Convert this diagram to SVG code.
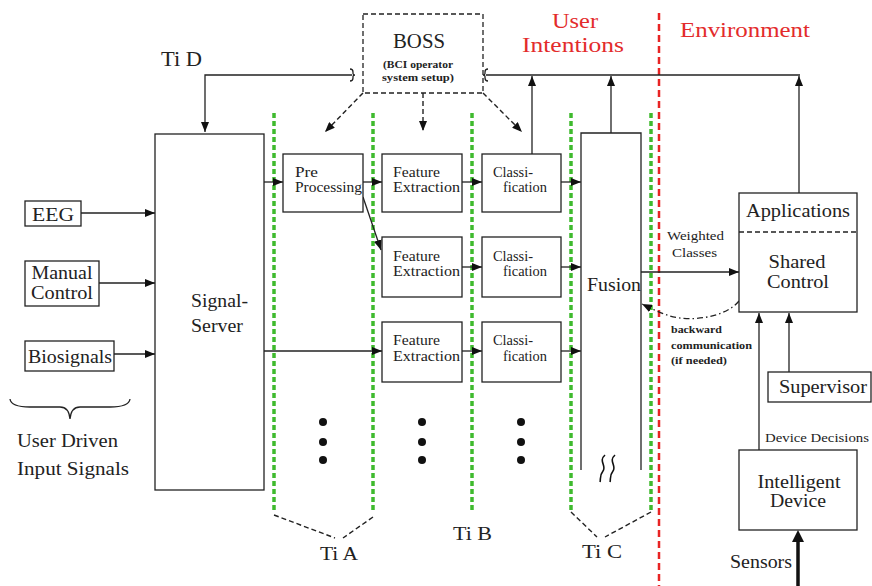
<svg xmlns="http://www.w3.org/2000/svg" width="872" height="586" viewBox="0 0 872 586" font-family="Liberation Serif, DejaVu Serif, Times New Roman, serif">
<style>
.t{fill:#222}
.r{fill:#e32b2b}
.box{fill:#fff;stroke:#222;stroke-width:1.3}
.ln{fill:none;stroke:#222;stroke-width:1.3}
.dash{fill:none;stroke:#222;stroke-width:1.4;stroke-dasharray:5 3}
.grn{fill:none;stroke:#3fba2e;stroke-width:3.5;stroke-dasharray:5 3}
.rdash{fill:none;stroke:#e82424;stroke-width:2.5;stroke-dasharray:7 4}
.dot{fill:#111}
</style>
<defs>
<marker id="ah" viewBox="0 0 10 8" refX="10" refY="4" markerWidth="10" markerHeight="8" markerUnits="userSpaceOnUse" orient="auto">
<path d="M0,0 L10,4 L0,8 Z" fill="#111"/>
</marker>
</defs>
<rect width="872" height="586" fill="#fff"/>

<g id="separators">
<line class="grn" x1="274" y1="113" x2="274" y2="512"/>
<line class="grn" x1="373" y1="113" x2="373" y2="512"/>
<line class="grn" x1="472" y1="113" x2="472" y2="512"/>
<line class="grn" x1="571" y1="113" x2="571" y2="512"/>
<line class="grn" x1="651" y1="113" x2="651" y2="512"/>
<line class="rdash" x1="659" y1="13" x2="659" y2="586"/>
</g>

<g id="connectors">
<path class="ln" d="M352,75 H205 V132" marker-end="url(#ah)"/>
<path class="ln" d="M350,69 q3,0 3,3 v1.5 q0,1.5 2,1.5 q-2,0 -2,1.5 v1.5 q0,3 -3,3"/>
<path class="ln" d="M486,75 H800"/>
<path class="ln" d="M488,69 q-3,0 -3,3 v1.5 q0,1.5 -2,1.5 q2,0 2,1.5 v1.5 q0,3 3,3"/>
<path class="ln" d="M532,154 V76" marker-end="url(#ah)"/>
<path class="ln" d="M611,133 V76" marker-end="url(#ah)"/>
<path class="ln" d="M799,193 V76" marker-end="url(#ah)"/>
<path class="dash" d="M363,93 L325,132" marker-end="url(#ah)"/>
<path class="dash" d="M423,93 V131" marker-end="url(#ah)"/>
<path class="dash" d="M483,93 L522,132" marker-end="url(#ah)"/>
<path class="ln" d="M81,213 H155" marker-end="url(#ah)"/>
<path class="ln" d="M99,283 H155" marker-end="url(#ah)"/>
<path class="ln" d="M114,354 H155" marker-end="url(#ah)"/>
<path class="ln" d="M264,182 H283" marker-end="url(#ah)"/>
<path class="ln" d="M363,182 H382" marker-end="url(#ah)"/>
<path class="ln" d="M462,182 H482" marker-end="url(#ah)"/>
<path class="ln" d="M561,182 H581" marker-end="url(#ah)"/>
<path class="ln" d="M363,197 L381,250" marker-end="url(#ah)"/>
<path class="ln" d="M462,267 H482" marker-end="url(#ah)"/>
<path class="ln" d="M561,267 H581" marker-end="url(#ah)"/>
<path class="ln" d="M264,351 H382" marker-end="url(#ah)"/>
<path class="ln" d="M462,351 H482" marker-end="url(#ah)"/>
<path class="ln" d="M561,351 H581" marker-end="url(#ah)"/>
<path class="ln" d="M641,272 H739" marker-end="url(#ah)"/>
<path fill="none" stroke="#222" stroke-width="1.3" stroke-dasharray="6 3 1.5 3" d="M739,301 C725,318 690,322 670,316 C660,313 650,308 642,304" marker-end="url(#ah)"/>
<path class="ln" d="M789,372 V313" marker-end="url(#ah)"/>
<path class="ln" d="M759,450 V313" marker-end="url(#ah)"/>
<path fill="none" stroke="#111" stroke-width="3.5" d="M798,586 V540"/>
<path d="M792,542 L798,530 L804,542 Z" fill="#111"/>
<path class="dash" d="M274,515 L335,538 M373,517 L343,538"/>
<path class="dash" d="M571,512 L597,537 M651,512 L605,537"/>
</g>

<g id="boss">
<rect class="box" x="363" y="14" width="120" height="79" style="stroke-dasharray:5 3"/>
<text class="t" x="419" y="48" font-size="20" text-anchor="middle" textLength="52" lengthAdjust="spacingAndGlyphs">BOSS</text>
<text class="t" x="418" y="68" font-size="10" font-weight="bold" text-anchor="middle" textLength="70" lengthAdjust="spacingAndGlyphs">(BCI operator</text>
<text class="t" x="418" y="81" font-size="10" font-weight="bold" text-anchor="middle" textLength="72" lengthAdjust="spacingAndGlyphs">system setup)</text>
</g>
<g id="tid"><text class="t" x="161" y="66" font-size="21" textLength="41" lengthAdjust="spacingAndGlyphs">Ti D</text></g>
<g id="user-intentions">
<text class="r" x="575" y="28" font-size="21" text-anchor="middle" textLength="46" lengthAdjust="spacingAndGlyphs">User</text>
<text class="r" x="573" y="52" font-size="21" text-anchor="middle" textLength="102" lengthAdjust="spacingAndGlyphs">Intentions</text>
</g>
<g id="environment"><text class="r" x="680" y="37" font-size="21" textLength="130" lengthAdjust="spacingAndGlyphs">Environment</text></g>

<g id="eeg">
<rect class="box" x="25" y="201" width="56" height="25"/>
<text class="t" x="53" y="221" font-size="19" text-anchor="middle" textLength="42" lengthAdjust="spacingAndGlyphs">EEG</text>
</g>
<g id="manual-control">
<rect class="box" x="25" y="261" width="74" height="45"/>
<text class="t" x="62" y="279" font-size="19" text-anchor="middle" textLength="61" lengthAdjust="spacingAndGlyphs">Manual</text>
<text class="t" x="62" y="299" font-size="19" text-anchor="middle" textLength="62" lengthAdjust="spacingAndGlyphs">Control</text>
</g>
<g id="biosignals">
<rect class="box" x="25" y="341" width="89" height="30"/>
<text class="t" x="70" y="363" font-size="19" text-anchor="middle" textLength="84" lengthAdjust="spacingAndGlyphs">Biosignals</text>
</g>
<g id="user-driven">
<path class="ln" d="M10,399 Q11,407 30,407 H60 Q69,407 70,419 Q71,407 80,407 H110 Q129,407 130,399"/>
<text class="t" x="17" y="447" font-size="19" textLength="101" lengthAdjust="spacingAndGlyphs">User Driven</text>
<text class="t" x="17" y="475" font-size="19" textLength="112" lengthAdjust="spacingAndGlyphs">Input Signals</text>
</g>
<g id="signal-server">
<rect class="box" x="155" y="134" width="109" height="356"/>
<text class="t" x="191" y="307" font-size="19" textLength="57" lengthAdjust="spacingAndGlyphs">Signal-</text>
<text class="t" x="191" y="332" font-size="19" textLength="52" lengthAdjust="spacingAndGlyphs">Server</text>
</g>

<g id="preprocessing">
<rect class="box" x="283" y="154" width="80" height="58"/>
<text class="t" x="295" y="177" font-size="14" textLength="23" lengthAdjust="spacingAndGlyphs">Pre</text>
<text class="t" x="295" y="192" font-size="14" textLength="67" lengthAdjust="spacingAndGlyphs">Processing</text>
</g>
<g id="fe1">
<rect class="box" x="382" y="154" width="80" height="58"/>
<text class="t" x="393" y="177" font-size="14" textLength="47" lengthAdjust="spacingAndGlyphs">Feature</text>
<text class="t" x="393" y="192" font-size="14" textLength="67" lengthAdjust="spacingAndGlyphs">Extraction</text>
</g>
<g id="cl1">
<rect class="box" x="482" y="154" width="79" height="58"/>
<text class="t" x="493" y="177" font-size="14" textLength="40" lengthAdjust="spacingAndGlyphs">Classi-</text>
<text class="t" x="503" y="192" font-size="14" textLength="44" lengthAdjust="spacingAndGlyphs">fication</text>
</g>
<g id="fe2">
<rect class="box" x="382" y="237" width="80" height="60"/>
<text class="t" x="393" y="261" font-size="14" textLength="47" lengthAdjust="spacingAndGlyphs">Feature</text>
<text class="t" x="393" y="276" font-size="14" textLength="67" lengthAdjust="spacingAndGlyphs">Extraction</text>
</g>
<g id="cl2">
<rect class="box" x="482" y="237" width="79" height="60"/>
<text class="t" x="493" y="261" font-size="14" textLength="40" lengthAdjust="spacingAndGlyphs">Classi-</text>
<text class="t" x="503" y="276" font-size="14" textLength="44" lengthAdjust="spacingAndGlyphs">fication</text>
</g>
<g id="fe3">
<rect class="box" x="382" y="322" width="80" height="60"/>
<text class="t" x="393" y="345" font-size="14" textLength="47" lengthAdjust="spacingAndGlyphs">Feature</text>
<text class="t" x="393" y="361" font-size="14" textLength="67" lengthAdjust="spacingAndGlyphs">Extraction</text>
</g>
<g id="cl3">
<rect class="box" x="482" y="322" width="79" height="60"/>
<text class="t" x="493" y="345" font-size="14" textLength="40" lengthAdjust="spacingAndGlyphs">Classi-</text>
<text class="t" x="503" y="361" font-size="14" textLength="44" lengthAdjust="spacingAndGlyphs">fication</text>
</g>
<g id="dots">
<circle class="dot" cx="323" cy="422" r="4"/><circle class="dot" cx="323" cy="442" r="4"/><circle class="dot" cx="323" cy="460" r="4"/>
<circle class="dot" cx="422" cy="422" r="4"/><circle class="dot" cx="422" cy="442" r="4"/><circle class="dot" cx="422" cy="460" r="4"/>
<circle class="dot" cx="521" cy="422" r="4"/><circle class="dot" cx="521" cy="442" r="4"/><circle class="dot" cx="521" cy="460" r="4"/>
</g>
<g id="fusion">
<path class="ln" d="M581,470 V133 H641 V470"/>
<rect x="582" y="276" width="58" height="22" fill="#fff"/>
<text class="t" x="587" y="291" font-size="19" textLength="54" lengthAdjust="spacingAndGlyphs">Fusion</text>
<path fill="none" stroke="#111" stroke-width="1.6" d="M605,455 C598,461 607,466 603,471 C599,476 601,479 600,482 M615,455 C608,461 617,466 613,471 C609,476 611,479 610,482"/>
</g>
<g id="ti-labels">
<text class="t" x="320" y="560" font-size="19" textLength="38" lengthAdjust="spacingAndGlyphs">Ti A</text>
<text class="t" x="453" y="540" font-size="19" textLength="39" lengthAdjust="spacingAndGlyphs">Ti B</text>
<text class="t" x="582" y="558" font-size="19" textLength="40" lengthAdjust="spacingAndGlyphs">Ti C</text>
</g>
<g id="weighted-classes">
<text class="t" x="667" y="240" font-size="12" textLength="57" lengthAdjust="spacingAndGlyphs">Weighted</text>
<text class="t" x="672" y="257" font-size="12" textLength="45" lengthAdjust="spacingAndGlyphs">Classes</text>
</g>
<g id="backward">
<text class="t" x="671" y="333" font-size="10.5" font-weight="bold" textLength="51" lengthAdjust="spacingAndGlyphs">backward</text>
<text class="t" x="671" y="349" font-size="10.5" font-weight="bold" textLength="81" lengthAdjust="spacingAndGlyphs">communication</text>
<text class="t" x="671" y="364" font-size="10.5" font-weight="bold" textLength="56" lengthAdjust="spacingAndGlyphs">(if needed)</text>
</g>
<g id="shared-control">
<rect class="box" x="739" y="193" width="118" height="119"/>
<line class="dash" x1="739" y1="232" x2="857" y2="232"/>
<text class="t" x="798" y="217" font-size="19" text-anchor="middle" textLength="104" lengthAdjust="spacingAndGlyphs">Applications</text>
<text class="t" x="797" y="268" font-size="19" text-anchor="middle" textLength="57" lengthAdjust="spacingAndGlyphs">Shared</text>
<text class="t" x="798" y="288" font-size="19" text-anchor="middle" textLength="62" lengthAdjust="spacingAndGlyphs">Control</text>
</g>
<g id="supervisor">
<rect class="box" x="768" y="372" width="103" height="30"/>
<text class="t" x="779" y="393" font-size="19" textLength="88" lengthAdjust="spacingAndGlyphs">Supervisor</text>
</g>
<g id="device-decisions"><text class="t" x="765" y="442" font-size="13" textLength="104" lengthAdjust="spacingAndGlyphs">Device Decisions</text></g>
<g id="intelligent-device">
<rect class="box" x="739" y="450" width="118" height="80"/>
<text class="t" x="799" y="488" font-size="19" text-anchor="middle" textLength="83" lengthAdjust="spacingAndGlyphs">Intelligent</text>
<text class="t" x="798" y="507" font-size="19" text-anchor="middle" textLength="56" lengthAdjust="spacingAndGlyphs">Device</text>
</g>
<g id="sensors"><text class="t" x="730" y="568" font-size="19" textLength="62" lengthAdjust="spacingAndGlyphs">Sensors</text></g>
</svg>
